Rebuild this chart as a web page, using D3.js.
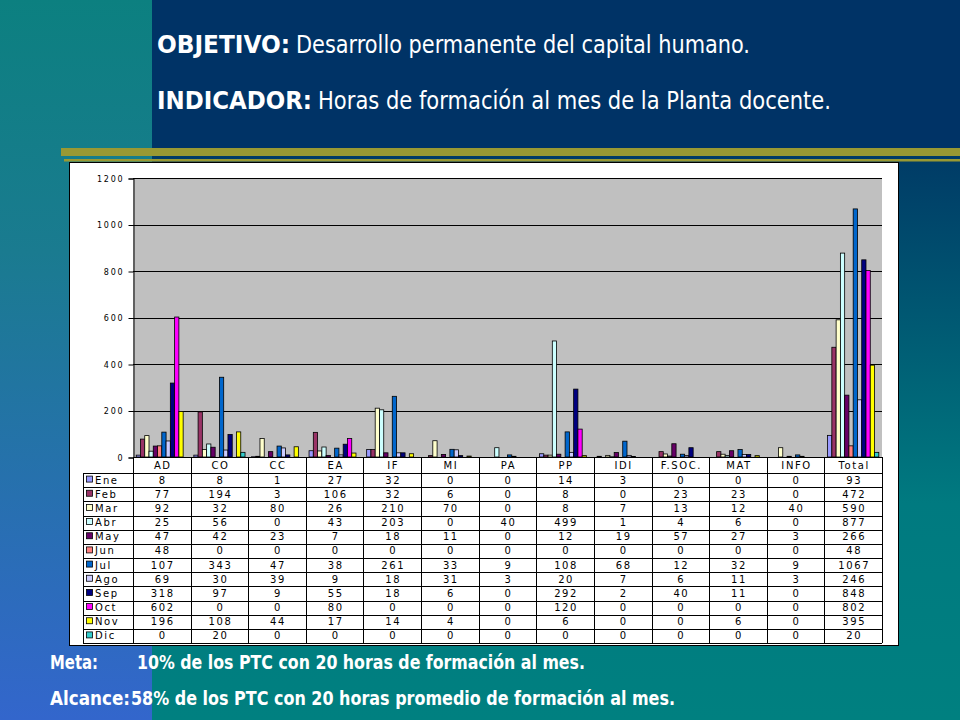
<!DOCTYPE html>
<html>
<head>
<meta charset="utf-8">
<script src="https://cdn.jsdelivr.net/npm/d3@7"></script>
<style>
body { margin: 0; background: #003366; }
svg { display: block; }
</style>
</head>
<body>
<script>
const categories = ["AD", "CO", "CC", "EA", "IF", "MI", "PA", "PP", "IDI", "F.SOC.", "MAT", "INFO", "Total"]
const months = ["Ene", "Feb", "Mar", "Abr", "May", "Jun", "Jul", "Ago", "Sep", "Oct", "Nov", "Dic"]
const monthColors = ["#9999FF", "#993366", "#FFFFCC", "#CCFFFF", "#660066", "#FF8080",
    "#0066CC", "#CCCCFF", "#000080", "#FF00FF", "#FFFF00", "#33CCCC"]

const ene = [8, 8, 1, 27, 32, 0, 0, 14, 3, 0, 0, 0, 93]
const feb = [77, 194, 3, 106, 32, 6, 0, 8, 0, 23, 23, 0, 472]
const mar = [92, 32, 80, 26, 210, 70, 0, 8, 7, 13, 12, 40, 590]
const abr = [25, 56, 0, 43, 203, 0, 40, 499, 1, 4, 6, 0, 877]
const may = [47, 42, 23, 7, 18, 11, 0, 12, 19, 57, 27, 3, 266]
const jun = [48, 0, 0, 0, 0, 0, 0, 0, 0, 0, 0, 0, 48]
const jul = [107, 343, 47, 38, 261, 33, 9, 108, 68, 12, 32, 9, 1067]
const ago = [69, 30, 39, 9, 18, 31, 3, 20, 7, 6, 11, 3, 246]
const sep = [318, 97, 9, 55, 18, 6, 0, 292, 2, 40, 11, 0, 848]
const oct = [602, 0, 0, 80, 0, 0, 0, 120, 0, 0, 0, 0, 802]
const nov = [196, 108, 44, 17, 14, 4, 0, 6, 0, 0, 6, 0, 395]
const dic = [0, 20, 0, 0, 0, 0, 0, 0, 0, 0, 0, 0, 20]

const yTicks = [0, 200, 400, 600, 800, 1000, 1200]

const titleLines = [
    { head: "OBJETIVO:", body: "Desarrollo permanente del capital humano." },
    { head: "INDICADOR:", body: "Horas de formación al mes de la Planta docente." }
]
const noteLines = [
    { head: "Meta:", body: "10% de los PTC con 20 horas de formación al mes." },
    { head: "Alcance:", body: "58% de los PTC con 20 horas promedio de formación al mes." }
]

const seriesValues = [ene, feb, mar, abr, may, jun, jul, ago, sep, oct, nov, dic]
const series = months.map((m, i) => ({ month: m, color: monthColors[i], values: seriesValues[i] }))

const svgWidth = 960
const svgHeight = 720

const plot = { left: 133, right: 882, top: 178, bottom: 457 }
const table = { left: 83, headerBottom: 473, bottom: 643 }

const svg = d3.select("body").append("svg")
    .attr("width", svgWidth)
    .attr("height", svgHeight)

// background
const defs = svg.append("defs")
const leftGrad = defs.append("linearGradient").attr("id", "leftGrad")
    .attr("x1", 0).attr("y1", 0).attr("x2", 0).attr("y2", 1)
leftGrad.append("stop").attr("offset", "0%").attr("stop-color", "#0C8080")
leftGrad.append("stop").attr("offset", "35%").attr("stop-color", "#1A7B90")
leftGrad.append("stop").attr("offset", "100%").attr("stop-color", "#3366CC")

const rightGrad = defs.append("linearGradient").attr("id", "rightGrad")
    .attr("x1", 0).attr("y1", 0).attr("x2", 0).attr("y2", 1)
rightGrad.append("stop").attr("offset", "0%").attr("stop-color", "#003A66")
rightGrad.append("stop").attr("offset", "62%").attr("stop-color", "#007A80")
rightGrad.append("stop").attr("offset", "100%").attr("stop-color", "#008080")

svg.append("rect").attr("x", 152).attr("y", 0).attr("width", svgWidth - 152).attr("height", 150)
    .attr("fill", "#003366")
svg.append("rect").attr("x", 152).attr("y", 150).attr("width", svgWidth - 152).attr("height", svgHeight - 150)
    .attr("fill", "url(#rightGrad)")
svg.append("rect").attr("x", 0).attr("y", 0).attr("width", 152).attr("height", svgHeight)
    .attr("fill", "url(#leftGrad)")

svg.append("rect").attr("x", 61).attr("y", 148).attr("width", svgWidth - 61).attr("height", 8)
    .attr("fill", "#999933")
svg.append("rect").attr("x", 64).attr("y", 159).attr("width", svgWidth - 64).attr("height", 2.5)
    .attr("fill", "#999933")

// heading and notes: condensed text squeezed into the measured widths
const narrowFont = "'DejaVu Sans Condensed', 'Liberation Sans Narrow', 'DejaVu Sans', sans-serif"

function squeezedLine(g, line, o) {
    const t = g.append("text")
        .attr("y", o.y)
        .attr("fill", "#FFFFFF")
        .style("font-family", narrowFont)
        .style("font-size", o.size + "px")
    t.append("tspan")
        .attr("x", o.headX)
        .attr("font-weight", "bold")
        .attr("textLength", o.headW)
        .attr("lengthAdjust", "spacingAndGlyphs")
        .text(line.head)
    t.append("tspan")
        .attr("x", o.bodyX)
        .attr("font-weight", o.bodyWeight)
        .attr("textLength", o.bodyW)
        .attr("lengthAdjust", "spacingAndGlyphs")
        .text(line.body)
}

const headG = svg.append("g")
squeezedLine(headG, titleLines[0], { y: 53, size: 25, headX: 157, headW: 133, bodyX: 296, bodyW: 454, bodyWeight: "normal" })
squeezedLine(headG, titleLines[1], { y: 109, size: 25, headX: 157, headW: 155, bodyX: 318, bodyW: 513, bodyWeight: "normal" })

const noteG = svg.append("g")
squeezedLine(noteG, noteLines[0], { y: 669, size: 19, headX: 50, headW: 48, bodyX: 137, bodyW: 448, bodyWeight: "bold" })
squeezedLine(noteG, noteLines[1], { y: 705, size: 19, headX: 50, headW: 80, bodyX: 131, bodyW: 544, bodyWeight: "bold" })

// chart box
svg.append("rect")
    .attr("x", 69.5).attr("y", 162.5)
    .attr("width", 898 - 69).attr("height", 645 - 162)
    .attr("fill", "#FFFFFF")
    .attr("stroke", "#000000")

const x = d3.scaleBand()
    .domain(categories)
    .range([plot.left, plot.right])

const xInner = d3.scaleBand()
    .domain(months)
    .range([0, x.bandwidth()])
    .paddingOuter(0.75)

const y = d3.scaleLinear()
    .domain([0, 1200])
    .range([plot.bottom, plot.top])

const chartG = svg.append("g")

chartG.append("rect")
    .attr("x", plot.left).attr("y", plot.top)
    .attr("width", plot.right - plot.left).attr("height", plot.bottom - plot.top)
    .attr("fill", "#C0C0C0")

chartG.append("g")
    .selectAll("line")
    .data(yTicks.filter(d => d > 0))
    .join("line")
    .attr("x1", plot.left).attr("x2", plot.right)
    .attr("y1", d => Math.round(y(d)) + 0.5).attr("y2", d => Math.round(y(d)) + 0.5)
    .attr("stroke", "#000000")

const groups = chartG.append("g")
    .selectAll("g")
    .data(series)
    .join("g")
    .attr("fill", d => d.color)

groups.selectAll("rect")
    .data(s => s.values.map((v, i) => ({ month: s.month, cat: categories[i], value: v })))
    .join("rect")
    .attr("x", d => x(d.cat) + xInner(d.month))
    .attr("y", d => y(d.value))
    .attr("width", xInner.bandwidth())
    .attr("height", d => y(0) - y(d.value))
    .attr("stroke", "#000000")
    .attr("stroke-width", 0.8)

const yAxis = d3.axisLeft(y)
    .tickValues(yTicks)
    .tickFormat(d3.format("d"))
    .tickSize(5)
    .tickPadding(4)

chartG.append("g")
    .attr("transform", `translate(${plot.left + 0.5}, 0.5)`)
    .call(yAxis)
    .call(g => g.select(".domain").attr("stroke", "#000000"))
    .call(g => g.selectAll("text")
        .attr("fill", "#000000")
        .style("font-family", "'DejaVu Sans', sans-serif")
        .style("font-size", "8px")
        .style("letter-spacing", "1.8px"))

// data table
const rowY = d3.scaleBand()
    .domain(months)
    .range([table.headerBottom, table.bottom])

const tableG = svg.append("g")
    .style("font-family", "'DejaVu Sans', sans-serif")
    .style("font-size", "10px")
    .style("letter-spacing", "1.6px")

const colEdges = categories.map(c => x(c)).concat([plot.right])
tableG.selectAll("line.col")
    .data(colEdges)
    .join("line")
    .attr("class", "col")
    .attr("x1", d => Math.round(d) + 0.5).attr("x2", d => Math.round(d) + 0.5)
    .attr("y1", plot.bottom).attr("y2", table.bottom)
    .attr("stroke", "#000000")

tableG.append("line")
    .attr("x1", table.left + 0.5).attr("x2", table.left + 0.5)
    .attr("y1", table.headerBottom).attr("y2", table.bottom)
    .attr("stroke", "#000000")

const rowEdges = months.map(m => rowY(m)).concat([table.bottom])
tableG.selectAll("line.row")
    .data(rowEdges)
    .join("line")
    .attr("class", "row")
    .attr("x1", table.left).attr("x2", plot.right)
    .attr("y1", d => Math.round(d) + 0.5).attr("y2", d => Math.round(d) + 0.5)
    .attr("stroke", "#000000")

tableG.append("line")
    .attr("x1", plot.left).attr("x2", plot.right)
    .attr("y1", plot.bottom + 0.5).attr("y2", plot.bottom + 0.5)
    .attr("stroke", "#000000")

tableG.selectAll("text.cat")
    .data(categories)
    .join("text")
    .attr("class", "cat")
    .attr("x", d => x(d) + x.bandwidth() / 2 + 1)
    .attr("y", (plot.bottom + table.headerBottom) / 2 + 4)
    .attr("text-anchor", "middle")
    .text(d => d)

const rows = tableG.selectAll("g.row")
    .data(series)
    .join("g")
    .attr("class", "row")
    .attr("transform", d => `translate(0, ${rowY(d.month) + rowY.bandwidth() / 2 + 3.5})`)

rows.append("rect")
    .attr("x", table.left + 3.5).attr("y", -7.5)
    .attr("width", 6).attr("height", 6)
    .attr("fill", d => d.color)
    .attr("stroke", "#000000")
    .attr("stroke-width", 0.8)

rows.append("text")
    .attr("x", table.left + 12)
    .text(d => d.month)

rows.selectAll("text.val")
    .data(d => d.values.map((v, i) => ({ cat: categories[i], value: v })))
    .join("text")
    .attr("class", "val")
    .attr("x", d => x(d.cat) + x.bandwidth() / 2 + 1)
    .attr("text-anchor", "middle")
    .text(d => d.value)
</script>
</body>
</html>
